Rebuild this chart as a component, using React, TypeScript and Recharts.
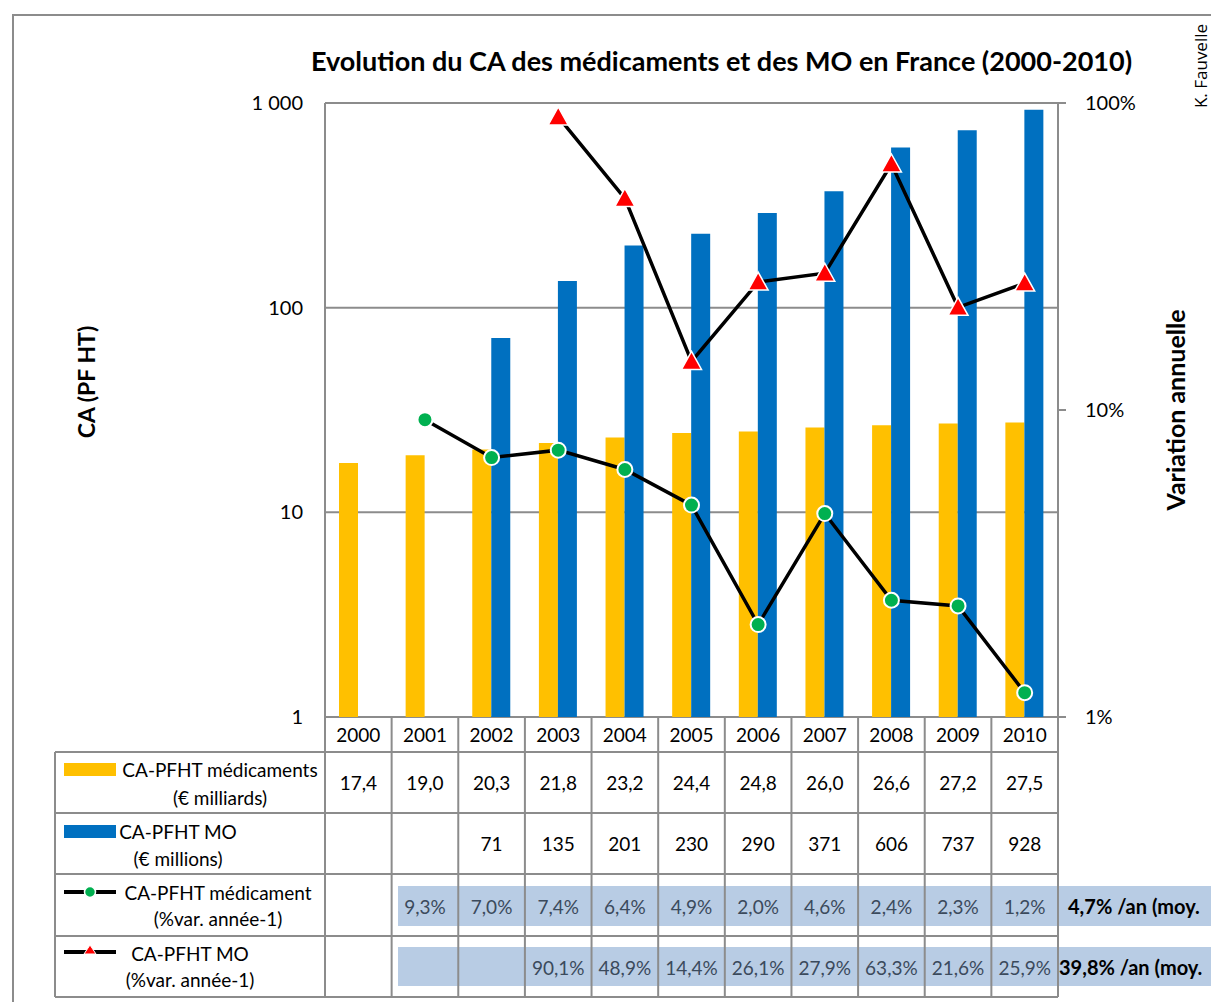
import React from 'react';
import {
  ComposedChart, Bar, Line, XAxis, YAxis, CartesianGrid,
} from 'recharts';

const YEARS = ['2000', '2001', '2002', '2003', '2004', '2005', '2006', '2007', '2008', '2009', '2010'];
const CA_MED = [17.4, 19.0, 20.3, 21.8, 23.2, 24.4, 24.8, 26.0, 26.6, 27.2, 27.5];
const CA_MO = [null, null, 71, 135, 201, 230, 290, 371, 606, 737, 928];
const VAR_MED = [null, 9.3, 7.0, 7.4, 6.4, 4.9, 2.0, 4.6, 2.4, 2.3, 1.2];
const VAR_MO = [null, null, null, 90.1, 48.9, 14.4, 26.1, 27.9, 63.3, 21.6, 25.9];
const LEFT_TICKS = [1, 10, 100, 1000];
const RIGHT_TICKS = [1, 10, 100];
const AVG_MED = '4,7% /an (moy.';
const AVG_MO = '39,8% /an (moy.';

const YELLOW = '#FFC000';
const BLUE = '#0070C0';
const GREEN = '#00B050';
const RED = '#FF0000';
const GRID = '#8c8c8c';
const BAND = '#B8CCE4';
const FONT = 'Lato, "Open Sans", sans-serif';

const data = YEARS.map((year, i) => ({
  year,
  med: CA_MED[i],
  mo: CA_MO[i],
  varMed: VAR_MED[i],
  varMo: VAR_MO[i],
}));

const frNum = (v: number | null, digits: number) =>
  v == null ? '' : v.toFixed(digits).replace('.', ',');

const leftTick = (v: number) => (v === 1000 ? '1 000' : String(v));

const GreenDot = (props: any) => {
  const { cx, cy, value } = props;
  if (value == null || cx == null || cy == null) return null;
  return <circle cx={cx} cy={cy} r={7.5} fill={GREEN} stroke="#fff" strokeWidth={2} />;
};

const RedTriangle = (props: any) => {
  const { cx, cy, value } = props;
  if (value == null || cx == null || cy == null) return null;
  return (
    <polygon
      points={`${cx},${cy - 10} ${cx - 10},${cy + 8} ${cx + 10},${cy + 8}`}
      fill={RED}
      stroke="#fff"
      strokeWidth={1.5}
    />
  );
};

// table geometry
const COL0 = 325;
const COL_END = 1058;
const COL_W = (COL_END - COL0) / YEARS.length;
const ROWS = [717, 752, 813, 874, 936, 997];
const LABEL_X = 55;

const DataTable: React.FC = () => {
  const colCenter = (i: number) => COL0 + COL_W * (i + 0.5);
  const rowMid = (r: number) => (ROWS[r] + ROWS[r + 1]) / 2;
  const txt = { fontFamily: FONT, fontSize: 19 };
  return (
    <svg width={1211} height={1002} style={{ position: 'absolute', left: 0, top: 0, pointerEvents: 'none' }}>
      {/* highlight bands for % rows */}
      <rect x={398} y={886} width={1211 - 398} height={40} fill={BAND} />
      <rect x={398} y={947} width={1211 - 398} height={39} fill={BAND} />

      {ROWS.slice(1).map(y => (
        <line key={`h${y}`} x1={LABEL_X} x2={COL_END} y1={y} y2={y} stroke={GRID} strokeWidth={2} />
      ))}
      {Array.from({ length: YEARS.length + 1 }).map((_, i) => (
        <line key={`v${i}`} x1={COL0 + COL_W * i} x2={COL0 + COL_W * i} y1={ROWS[0]} y2={ROWS[5]} stroke={GRID} strokeWidth={2} />
      ))}
      <line x1={LABEL_X} x2={LABEL_X} y1={ROWS[1]} y2={ROWS[5]} stroke={GRID} strokeWidth={2} />

      {YEARS.map((y, i) => (
        <text key={y} x={colCenter(i)} y={rowMid(0)} textAnchor="middle" dominantBaseline="central" {...txt}>{y}</text>
      ))}
      {CA_MED.map((v, i) => (
        <text key={`m${i}`} x={colCenter(i)} y={rowMid(1)} textAnchor="middle" dominantBaseline="central" {...txt}>{frNum(v, 1)}</text>
      ))}
      {CA_MO.map((v, i) => (
        <text key={`o${i}`} x={colCenter(i)} y={rowMid(2)} textAnchor="middle" dominantBaseline="central" {...txt}>{frNum(v, 0)}</text>
      ))}
      {VAR_MED.map((v, i) => (
        <text key={`vm${i}`} x={colCenter(i)} y={906} textAnchor="middle" dominantBaseline="central" {...txt} fill="#3b4a5c">{v == null ? '' : `${frNum(v, 1)}%`}</text>
      ))}
      {VAR_MO.map((v, i) => (
        <text key={`vo${i}`} x={colCenter(i)} y={967} textAnchor="middle" dominantBaseline="central" {...txt} fill="#3b4a5c">{v == null ? '' : `${frNum(v, 1)}%`}</text>
      ))}
      <text x={1068} y={906} dominantBaseline="central" {...txt} fontSize={20} fontWeight="bold">{AVG_MED}</text>
      <text x={1059} y={967} dominantBaseline="central" {...txt} fontSize={20} fontWeight="bold">{AVG_MO}</text>

      {/* legend keys */}
      <rect x={64} y={763} width={52} height={13} fill={YELLOW} />
      <text x={220} y={769} textAnchor="middle" dominantBaseline="central" {...txt}>CA-PFHT médicaments</text>
      <text x={220} y={797} textAnchor="middle" dominantBaseline="central" {...txt}>(€ milliards)</text>

      <rect x={64} y={825} width={52} height={13} fill={BLUE} />
      <text x={178} y={831} textAnchor="middle" dominantBaseline="central" {...txt}>CA-PFHT MO</text>
      <text x={178} y={858} textAnchor="middle" dominantBaseline="central" {...txt}>(€ millions)</text>

      <line x1={64} x2={116} y1={892} y2={892} stroke="#000" strokeWidth={4} />
      <circle cx={90} cy={892} r={5.5} fill={GREEN} stroke="#fff" strokeWidth={1.5} />
      <text x={218} y={892} textAnchor="middle" dominantBaseline="central" {...txt}>CA-PFHT médicament</text>
      <text x={218} y={918} textAnchor="middle" dominantBaseline="central" {...txt}>(%var. année-1)</text>

      <line x1={64} x2={116} y1={952} y2={952} stroke="#000" strokeWidth={4} />
      <polygon points="90,945 84,954 96,954" fill={RED} stroke="#fff" strokeWidth={1} />
      <text x={190} y={953} textAnchor="middle" dominantBaseline="central" {...txt}>CA-PFHT MO</text>
      <text x={190} y={979} textAnchor="middle" dominantBaseline="central" {...txt}>(%var. année-1)</text>
    </svg>
  );
};

const App: React.FC = () => {
  return (
    <div style={{ position: 'absolute', left: 0, top: 0, width: 1211, height: 1002, background: '#fff', overflow: 'hidden', fontFamily: FONT }}>
      <div style={{ position: 'absolute', left: 12, top: 14, width: 1300, height: 1100, borderLeft: `2px solid ${GRID}`, borderTop: `2px solid ${GRID}` }} />

      <div style={{ position: 'absolute', left: 0, top: 0 }}>
        <ComposedChart
          width={1211}
          height={760}
          data={data}
          margin={{ top: 103, right: 93, bottom: 43, left: 265 }}
          barGap={0}
        >
          <CartesianGrid yAxisId="left" vertical={false} stroke={GRID} strokeWidth={2} />
          <XAxis dataKey="year" hide />
          <YAxis
            yAxisId="left"
            orientation="left"
            type="number"
            scale="log"
            domain={[1, 1000]}
            ticks={LEFT_TICKS}
            allowDataOverflow
            width={60}
            tickFormatter={leftTick}
            tickLine={false}
            tickSize={10}
            tickMargin={12}
            axisLine={{ stroke: GRID, strokeWidth: 2 }}
            tick={{ fill: '#000', fontSize: 20, fontFamily: FONT }}
          />
          <YAxis
            yAxisId="right"
            orientation="right"
            type="number"
            scale="log"
            domain={[1, 100]}
            ticks={RIGHT_TICKS}
            allowDataOverflow
            width={60}
            tickFormatter={(v: number) => `${v}%`}
            tickSize={8}
            tickMargin={19}
            tickLine={{ stroke: GRID, strokeWidth: 2 }}
            axisLine={{ stroke: GRID, strokeWidth: 2 }}
            tick={{ fill: '#000', fontSize: 20, fontFamily: FONT, textAnchor: 'start' }}
          />
          <Bar yAxisId="left" dataKey="med" fill={YELLOW} barSize={19} isAnimationActive={false} />
          <Bar yAxisId="left" dataKey="mo" fill={BLUE} barSize={19} isAnimationActive={false} />
          <Line yAxisId="right" dataKey="varMed" stroke="#000" strokeWidth={3.5} dot={<GreenDot />} activeDot={false} isAnimationActive={false} />
          <Line yAxisId="right" dataKey="varMo" stroke="#000" strokeWidth={3.5} dot={<RedTriangle />} activeDot={false} isAnimationActive={false} />
        </ComposedChart>
      </div>

      <DataTable />

      <div style={{ position: 'absolute', left: 0, width: 1443, top: 44, textAlign: 'center', fontSize: 27, fontWeight: 'bold', whiteSpace: 'nowrap' }}>
        Evolution du CA des médicaments et des MO en France (2000-2010)
      </div>
      <div style={{ position: 'absolute', left: 86, top: 382, transform: 'translate(-50%, -50%) rotate(-90deg)', fontSize: 23, fontWeight: 'bold', whiteSpace: 'nowrap' }}>
        CA (PF HT)
      </div>
      <div style={{ position: 'absolute', left: 1175, top: 410, transform: 'translate(-50%, -50%) rotate(-90deg)', fontSize: 25, fontWeight: 'bold', whiteSpace: 'nowrap' }}>
        Variation annuelle
      </div>
      <div style={{ position: 'absolute', left: 1200, top: 66, transform: 'translate(-50%, -50%) rotate(-90deg)', fontSize: 17, whiteSpace: 'nowrap', fontFamily: '"Open Sans", sans-serif' }}>
        K. Fauvelle
      </div>
    </div>
  );
};

export default App;
